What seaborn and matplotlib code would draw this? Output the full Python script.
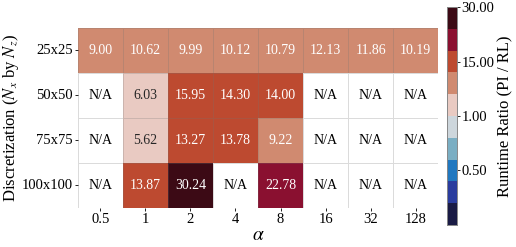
import numpy as np
import pandas as pd
import seaborn as sns
import matplotlib.pyplot as plt
from matplotlib.colors import ListedColormap, BoundaryNorm

# grid sizes (rows) and alpha values (columns)
grids = ['25x25', '50x50', '75x75', '100x100']
alphas = ['0.5', '1', '2', '4', '8', '16', '32', '128']

# runtime ratio PI / RL, NaN = not available
r25 = [9.00, 10.62, 9.99, 10.12, 10.79, 12.13, 11.86, 10.19]
r50 = [np.nan, 6.03, 15.95, 14.30, 14.00, np.nan, np.nan, np.nan]
r75 = [np.nan, 5.62, 13.27, 13.78, 9.22, np.nan, np.nan, np.nan]
r100 = [np.nan, 13.87, 30.24, np.nan, 22.78, np.nan, np.nan, np.nan]

# discrete colour levels (balance-like diverging map)
levels = [0.0, 0.2, 0.4, 0.6, 0.8, 1.0, 7.0, 12.5, 18.0, 24.0, 30.0]
level_colors = ['#1a1b45', '#2a3c9e', '#2178c0', '#7aaec3', '#cdd6dc',
                '#e9cac2', '#d08a70', '#bd4a30', '#8a1030', '#3c0a15']
cbar_ticks = [0.5, 1.0, 15.0, 30.0]

data = pd.DataFrame([r25, r50, r75, r100], index=grids, columns=alphas)

plt.rcParams['font.family'] = ['Liberation Serif', 'DejaVu Serif']
plt.rcParams['mathtext.fontset'] = 'stix'

cmap = ListedColormap(level_colors)
cmap.set_bad('white')
norm = BoundaryNorm(levels, cmap.N)

fig = plt.figure(figsize=(5.16, 2.47), dpi=100)
ax = fig.add_axes([0.151, 0.158, 0.698, 0.729])
cax = fig.add_axes([0.866, 0.089, 0.0194, 0.883])

sns.heatmap(data, ax=ax, cbar_ax=cax, cmap=cmap, norm=norm,
            annot=True, fmt='.2f', annot_kws={'fontsize': 10},
            linewidths=0.7, linecolor=(0.45, 0.45, 0.45, 0.25),
            cbar_kws={'ticks': cbar_ticks, 'format': '%.2f'})

# label the missing cells
for i in range(len(grids)):
    for j in range(len(alphas)):
        if np.isnan(data.iloc[i, j]):
            ax.text(j + 0.5, i + 0.5, 'N/A', ha='center', va='center',
                    fontsize=10, color='black')

ax.set_xlabel(r'$\alpha$', fontsize=14, labelpad=1)
ax.set_ylabel(r'Discretization ($N_x$ by $N_z$)', fontsize=12, labelpad=1)
ax.tick_params(axis='both', labelsize=10.5, length=2, width=0.6, pad=1.5)
ax.tick_params(axis='y', rotation=0)
ax.tick_params(axis='x', rotation=0)

cax.minorticks_off()
cax.tick_params(labelsize=10.5, length=2.5, width=0.6, pad=1)
cax.set_ylabel('Runtime Ratio (PI / RL)', fontsize=12, labelpad=2)
for s in cax.spines.values():
    s.set_visible(True)
    s.set_edgecolor('#888888')
    s.set_linewidth(0.6)

fig.savefig('out.png', dpi=100)
